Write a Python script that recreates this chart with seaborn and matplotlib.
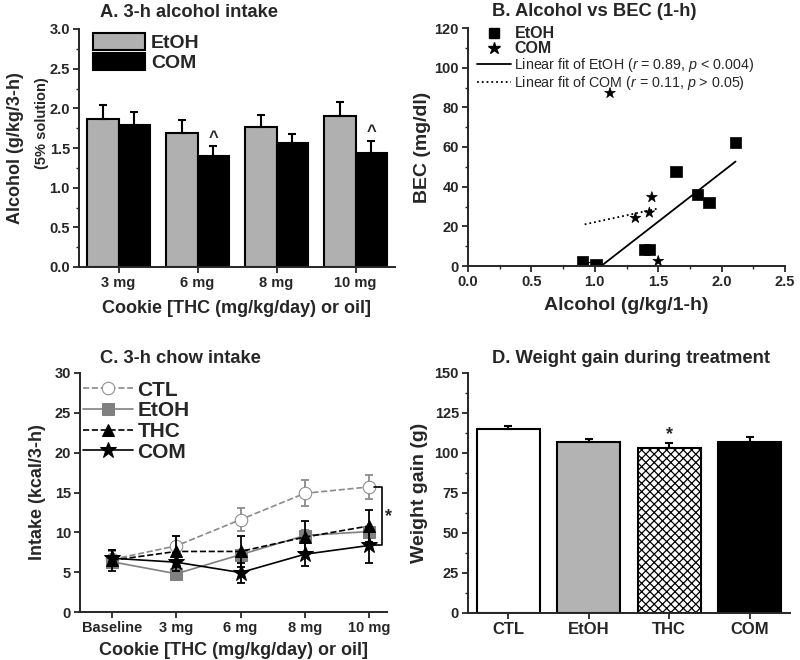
import numpy as np
import pandas as pd
import matplotlib
matplotlib.use('Agg')
import matplotlib.pyplot as plt
from matplotlib.ticker import AutoMinorLocator, MultipleLocator
from matplotlib.patches import Patch
import seaborn as sns

# A. 3-h alcohol intake
doses = ['3 mg', '6 mg', '8 mg', '10 mg']
etoh_intake = [1.87, 1.69, 1.76, 1.90]
etoh_intake_err = [0.17, 0.16, 0.16, 0.18]
com_intake = [1.79, 1.40, 1.56, 1.44]
com_intake_err = [0.16, 0.12, 0.12, 0.15]
com_sig = ['', '^', '', '^']

# B. alcohol vs BEC (1-h)
etoh_alc = [0.90, 1.01, 1.39, 1.43, 1.64, 1.81, 1.90, 2.11]
etoh_bec = [2.2, 0.5, 8.4, 8.4, 47.6, 36.2, 32.2, 62.3]
com_alc = [0.92, 1.12, 1.32, 1.43, 1.45, 1.50]
com_bec = [1.0, 87.2, 24.2, 26.9, 34.7, 2.5]
fit_slope = [49.7, 13.8]
fit_icpt = [-52.2, 8.3]

# C. 3-h chow intake
chow_x = ['Baseline', '3 mg', '6 mg', '8 mg', '10 mg']
ctl_chow = [6.6, 8.3, 11.6, 14.9, 15.7]
ctl_chow_err = [1.0, 1.3, 1.4, 1.65, 1.5]
etoh_chow = [6.3, 4.8, 7.2, 9.6, 10.1]
etoh_chow_err = [0.6, 0.5, 0.6, 0.7, 0.6]
thc_chow = [6.5, 7.6, 7.6, 9.4, 10.8]
thc_chow_err = [1.3, 1.9, 1.9, 2.0, 2.0]
com_chow = [6.75, 6.25, 4.95, 7.25, 8.35]
com_chow_err = [1.0, 1.1, 1.25, 1.45, 2.15]

# D. weight gain
groups = ['CTL', 'EtOH', 'THC', 'COM']
weight_gain = [114.9, 106.7, 103.0, 106.7]
weight_gain_err = [1.7, 2.3, 3.0, 3.6]

sns.set_style('ticks')
plt.rcParams['font.family'] = ['Liberation Sans', 'DejaVu Sans']
plt.rcParams['font.weight'] = 'bold'
plt.rcParams['axes.labelweight'] = 'bold'
plt.rcParams['axes.linewidth'] = 1.4
plt.rcParams['hatch.linewidth'] = 0.9
plt.rcParams['mathtext.fontset'] = 'custom'
plt.rcParams['mathtext.rm'] = 'Liberation Sans:normal'
plt.rcParams['mathtext.it'] = 'Liberation Sans:italic:normal'

TICK = 10.5
TITLE = 13.2

fig = plt.figure(figsize=(8, 6.6), dpi=100)
axA = fig.add_axes([79/800, 1-267/660, 316/800, 238/660])
axB = fig.add_axes([468/800, 1-266/660, 317/800, 238/660])
axC = fig.add_axes([80/800, 1-612/660, 307/800, 239/660])
axD = fig.add_axes([468/800, 1-613/660, 322/800, 240/660])


def style_axis(ax):
    sns.despine(ax=ax)
    ax.tick_params(which='major', direction='out', length=4, width=1.3, labelsize=TICK, pad=2.5)
    ax.tick_params(which='minor', direction='out', length=2.5, width=1.0)
    for lab in ax.get_xticklabels() + ax.get_yticklabels():
        lab.set_fontweight('bold')


# ---- A ----
dfA = pd.DataFrame({'dose': doses * 2,
                    'val': etoh_intake + com_intake,
                    'grp': ['EtOH'] * 4 + ['COM'] * 4})
sns.barplot(data=dfA, x='dose', y='val', hue='grp', palette=['#b0b0b0', 'black'],
            edgecolor='black', linewidth=1.5, width=0.8, errorbar=None, ax=axA, legend=False)
for i, (vals, errs) in enumerate([(etoh_intake, etoh_intake_err), (com_intake, com_intake_err)]):
    xs = [p.get_x() + p.get_width() / 2 for p in axA.patches[i*4:(i+1)*4]]
    axA.errorbar(xs, vals, yerr=[np.zeros(4), errs], fmt='none', ecolor='black',
                 elinewidth=1.5, capsize=3, capthick=1.5)
    if i == 1:
        for x, v, e, s in zip(xs, vals, errs, com_sig):
            if s:
                axA.text(x, v + e + 0.02, s, ha='center', va='bottom', fontsize=12, fontweight='bold')
axA.set_ylim(0, 3)
axA.set_xlim(-0.5, 3.5)
axA.yaxis.set_major_locator(MultipleLocator(0.5))
axA.yaxis.set_minor_locator(AutoMinorLocator(2))
axA.yaxis.set_major_formatter(matplotlib.ticker.FormatStrFormatter('%.1f'))
axA.set_xlabel('Cookie [THC (mg/kg/day) or oil]', fontsize=13)
axA.set_ylabel('Alcohol (g/kg/3-h)', fontsize=13)
axA.yaxis.set_label_coords(-0.175, 0.5)
axA.xaxis.set_label_coords(0.5, -0.14)
axA.text(-0.117, 0.605, '(5% solution)', transform=axA.transAxes, rotation=90,
         ha='center', va='center', fontsize=10.5, fontweight='bold')
axA.text(0.066, 1.07, 'A. 3-h alcohol intake', transform=axA.transAxes,
         ha='left', va='center', fontsize=TITLE, fontweight='bold')
axA.legend(handles=[Patch(facecolor='#b0b0b0', edgecolor='black', linewidth=1.5, label='EtOH'),
                    Patch(facecolor='black', edgecolor='black', linewidth=1.5, label='COM')],
           loc='upper left', bbox_to_anchor=(0.0, 1.04), frameon=False,
           handlelength=2.7, handleheight=0.95, labelspacing=0.05, handletextpad=0.3,
           borderaxespad=0.3, prop={'weight': 'bold', 'size': 14})
style_axis(axA)

# ---- B ----
dfB = pd.DataFrame({'alc': etoh_alc + com_alc,
                    'bec': etoh_bec + com_bec,
                    'grp': ['EtOH'] * len(etoh_alc) + ['COM'] * len(com_alc)})
sns.scatterplot(data=dfB, x='alc', y='bec', style='grp', markers={'EtOH': 's', 'COM': '*'},
                color='black', s=65, edgecolor='black', linewidth=0.5, ax=axB, legend=False)
fit_styles = ['-', ':']
fit_names = [r'Linear fit of EtOH ($\it{r}$ = 0.89, $\it{p}$ < 0.004)',
             r'Linear fit of COM ($\it{r}$ = 0.11, $\it{p}$ > 0.05)']
for xs, m, b, ls in zip([etoh_alc, com_alc], fit_slope, fit_icpt, fit_styles):
    xx = np.array([min(xs), max(xs)])
    axB.plot(xx, m * xx + b, color='black', lw=1.3, ls=ls)
axB.set_xlim(0, 2.5)
axB.set_ylim(0, 120)
axB.xaxis.set_major_locator(MultipleLocator(0.5))
axB.xaxis.set_minor_locator(AutoMinorLocator(2))
axB.yaxis.set_major_locator(MultipleLocator(20))
axB.yaxis.set_minor_locator(AutoMinorLocator(2))
axB.xaxis.set_major_formatter(matplotlib.ticker.FormatStrFormatter('%.1f'))
axB.set_xlabel('Alcohol (g/kg/1-h)', fontsize=14)
axB.set_ylabel('BEC (mg/dl)', fontsize=14)
axB.yaxis.set_label_coords(-0.117, 0.5)
axB.xaxis.set_label_coords(0.5, -0.13)
axB.text(0.076, 1.07, 'B. Alcohol vs BEC (1-h)', transform=axB.transAxes,
         ha='left', va='center', fontsize=TITLE, fontweight='bold')
hB = [plt.Line2D([], [], ls='none', marker='s', color='black', markersize=7),
      plt.Line2D([], [], ls='none', marker='*', color='black', markersize=9),
      plt.Line2D([], [], ls='-', color='black', lw=1.3),
      plt.Line2D([], [], ls=':', color='black', lw=1.3)]
legB = axB.legend(hB, ['EtOH', 'COM'] + fit_names, loc='upper left', bbox_to_anchor=(0.0, 1.045),
                  frameon=False, fontsize=10.3, handlelength=2.4, labelspacing=0.0,
                  handletextpad=0.25, borderaxespad=0.2)
for t in legB.get_texts()[:2]:
    t.set_fontweight('bold')
    t.set_fontsize(11.5)
for t in legB.get_texts()[2:]:
    t.set_fontweight('normal')
style_axis(axB)

# ---- C ----
xpos = np.arange(len(chow_x))
series = [('CTL', ctl_chow, ctl_chow_err, '#8a8a8a', '--', 'o', 'white', 9),
          ('EtOH', etoh_chow, etoh_chow_err, '#808080', '-', 's', '#808080', 8),
          ('THC', thc_chow, thc_chow_err, 'black', '--', '^', 'black', 9),
          ('COM', com_chow, com_chow_err, 'black', '-', '*', 'black', 12)]
for name, vals, errs, col, ls, mk, fc, ms in series:
    axC.errorbar(xpos, vals, yerr=errs, fmt='none', ecolor=col, elinewidth=1.3,
                 capsize=3, capthick=1.3)
    sns.lineplot(x=xpos, y=vals, ax=axC, color=col, linestyle=ls, marker=mk,
                 markerfacecolor=fc, markeredgecolor=col, markersize=ms, lw=1.2,
                 label=name)
# bracket between CTL and COM at last dose
bx = xpos[-1] + 0.2
axC.plot([xpos[-1] + 0.08, bx, bx, xpos[-1] + 0.08], [ctl_chow[-1], ctl_chow[-1], com_chow[-1], com_chow[-1]],
         color='black', lw=1.2)
axC.text(bx + 0.1, (ctl_chow[-1] + com_chow[-1]) / 2, '*', ha='center', va='center',
         fontsize=13, fontweight='bold')
axC.set_xlim(-0.5, 4.28)
axC.set_ylim(0, 30)
axC.set_xticks(xpos)
axC.set_xticklabels(chow_x)
axC.yaxis.set_major_locator(MultipleLocator(5))
axC.set_xlabel('Cookie [THC (mg/kg/day) or oil]', fontsize=13)
axC.set_ylabel('Intake (kcal/3-h)', fontsize=13)
axC.yaxis.set_label_coords(-0.11, 0.5)
axC.xaxis.set_label_coords(0.5, -0.125)
axC.text(0.065, 1.06, 'C. 3-h chow intake', transform=axC.transAxes,
         ha='left', va='center', fontsize=TITLE, fontweight='bold')
axC.legend(loc='upper left', bbox_to_anchor=(-0.03, 1.02), frameon=False,
           handlelength=2.4, labelspacing=0.08, handletextpad=0.2, borderaxespad=0.2,
           prop={'weight': 'bold', 'size': 15})
style_axis(axC)

# ---- D ----
sns.barplot(x=groups, y=weight_gain, hue=groups, palette=['white', '#b3b3b3', 'white', 'black'],
            edgecolor='black', linewidth=1.5, width=0.78, errorbar=None, ax=axD, legend=False)
axD.patches[2].set_hatch('xxxx')
xsD = [p.get_x() + p.get_width() / 2 for p in axD.patches[:4]]
axD.errorbar(xsD, weight_gain, yerr=[np.zeros(4), weight_gain_err], fmt='none', ecolor='black',
             elinewidth=1.5, capsize=3, capthick=1.5)
axD.text(xsD[2], weight_gain[2] + weight_gain_err[2] + 0.5, '*', ha='center', va='bottom',
         fontsize=13, fontweight='bold')
axD.set_xlim(-0.5, 3.5)
axD.set_ylim(0, 150)
axD.yaxis.set_major_locator(MultipleLocator(25))
axD.yaxis.set_minor_locator(AutoMinorLocator(2))
axD.set_ylabel('Weight gain (g)', fontsize=14)
axD.yaxis.set_label_coords(-0.124, 0.5)
axD.text(0.075, 1.06, 'D. Weight gain during treatment', transform=axD.transAxes,
         ha='left', va='center', fontsize=TITLE, fontweight='bold')
style_axis(axD)
axD.tick_params(axis='x', labelsize=TICK + 1.5)

fig.savefig('out.png', dpi=100)
